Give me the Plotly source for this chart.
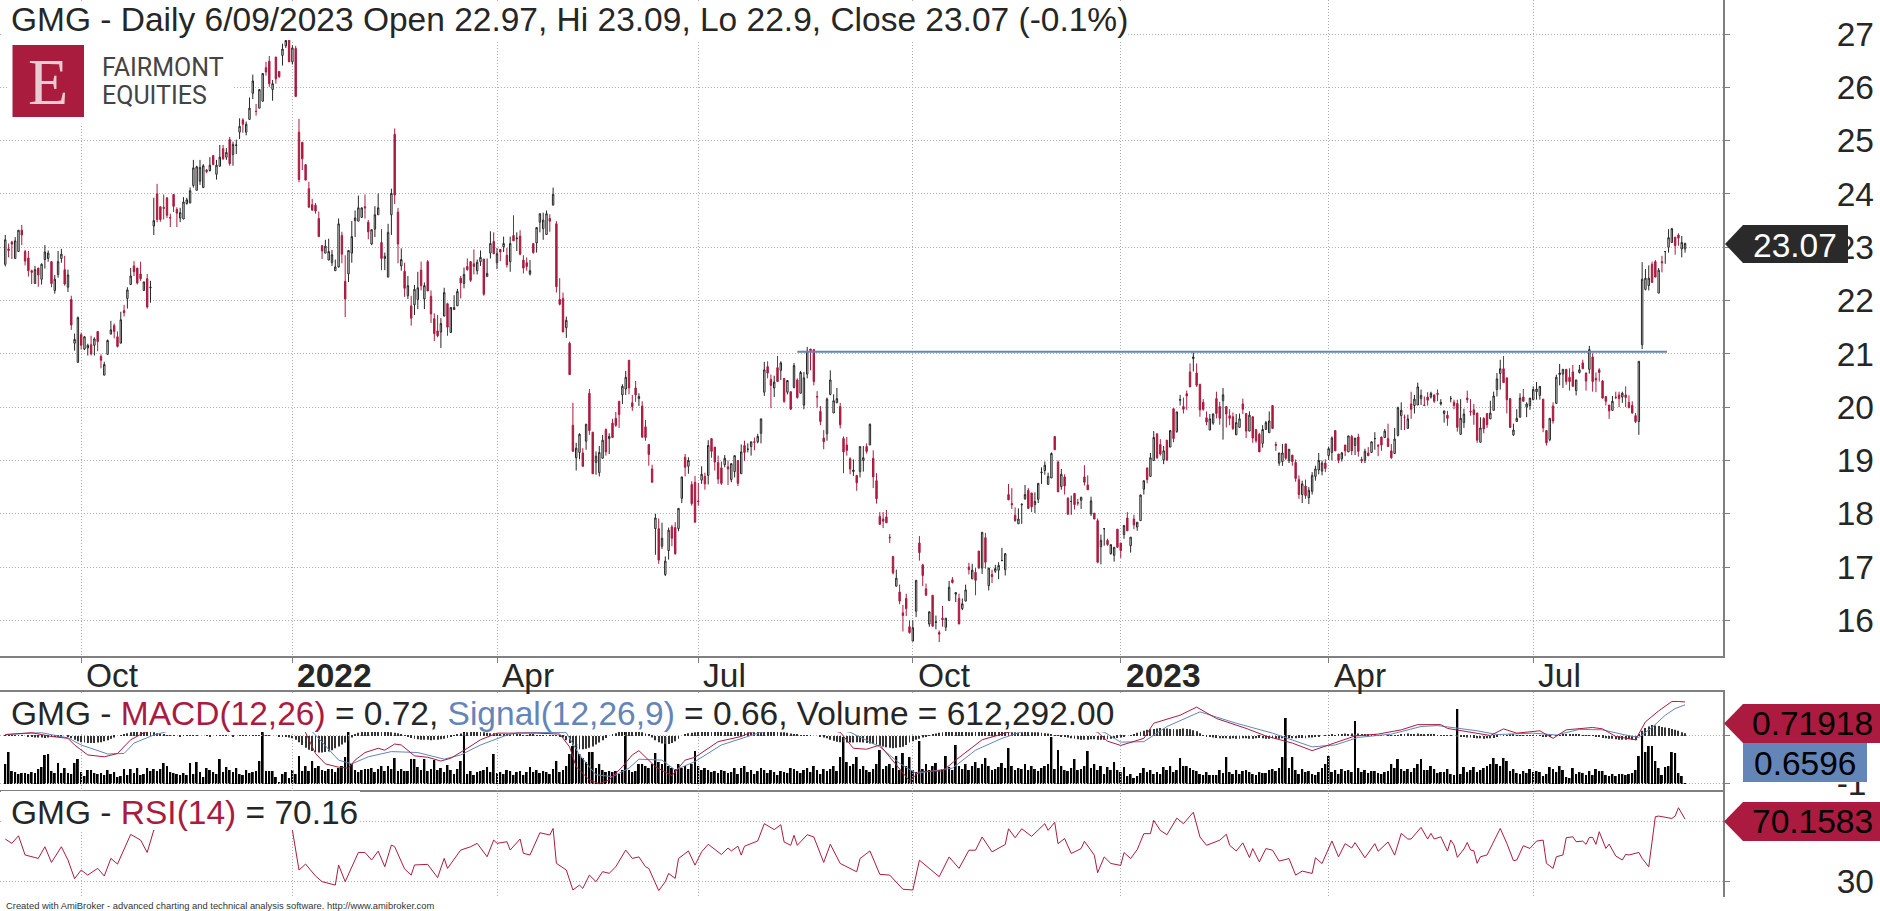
import plotly.graph_objects as go

# chart values, one entry per trading day
opens = [
 22.68,22.97,23.10,22.79,22.92,23.32,22.92,22.80,22.56,22.32,
 22.61,22.40,22.77,22.79,22.73,22.19,22.49,22.79,22.58,22.25,
 22.02,21.20,20.84,21.36,21.09,21.11,21.17,21.16,21.42,20.95,
 20.60,20.99,21.37,21.53,21.32,21.20,21.81,22.04,22.30,22.65,
 22.61,22.50,22.19,22.41,22.24,23.40,24.00,23.76,23.75,23.93,
 23.56,23.99,23.71,23.55,23.53,23.82,23.83,24.16,24.07,24.24,
 24.12,24.45,24.44,24.72,24.37,24.52,24.85,24.69,25.02,24.74,
 24.91,25.16,25.39,25.16,25.40,25.89,25.55,25.61,25.74,26.37,
 26.49,25.96,26.57,26.30,26.60,26.78,26.95,26.48,26.73,25.16,
 24.97,24.55,24.10,23.80,23.79,23.54,23.03,22.89,22.76,22.71,
 22.56,22.63,23.22,22.36,22.50,22.89,23.50,23.49,23.56,23.76,
 23.47,23.06,23.34,23.61,23.09,22.79,22.44,23.61,25.12,23.66,
 22.65,22.55,22.09,21.90,21.92,22.02,22.57,22.03,22.73,22.08,
 21.66,21.43,21.41,21.71,21.94,21.40,21.83,21.90,22.42,22.32,
 22.64,22.73,22.69,22.56,22.73,22.78,22.45,22.89,23.11,22.71,
 22.96,23.01,22.85,22.73,23.22,23.16,23.21,22.76,22.71,22.50,
 23.07,23.08,23.47,23.35,23.24,23.54,23.79,23.44,22.02,22.04,
 21.49,21.20,19.66,19.05,19.15,19.14,19.36,20.26,19.53,18.96,
 18.77,19.04,19.58,19.41,19.70,19.79,20.11,20.23,20.34,20.88,
 20.08,20.36,20.16,20.02,19.63,19.30,18.84,17.72,17.72,17.39,
 16.86,17.31,17.75,17.74,17.72,18.29,19.06,18.89,18.55,18.59,
 18.24,18.63,18.70,18.72,19.41,19.25,18.96,18.86,18.92,18.88,
 18.64,18.79,19.00,18.75,19.28,19.21,19.26,19.35,19.35,19.51,
 20.28,20.76,20.52,20.36,20.74,20.69,20.54,20.28,20.29,20.37,
 20.51,20.26,20.04,20.62,21.09,21.08,20.20,19.92,19.42,19.50,
 20.24,19.89,20.08,20.01,19.41,19.29,19.03,18.79,18.72,18.79,
 19.00,19.26,19.29,19.04,18.62,17.95,17.90,17.94,17.56,17.20,
 16.64,16.53,16.14,16.41,15.88,15.61,16.17,17.45,17.04,16.59,
 15.93,16.47,15.96,15.77,16.04,15.87,16.37,16.76,16.49,16.41,
 16.22,16.36,17.00,16.78,16.90,17.30,16.98,17.55,16.65,16.86,
 16.92,16.94,17.12,16.95,18.36,18.19,17.97,17.81,18.17,18.28,
 18.44,18.39,18.17,18.27,18.77,18.81,18.55,18.67,19.45,18.97,
 18.51,18.69,18.29,18.23,18.38,18.21,18.25,18.69,18.54,18.00,
 18.01,17.87,17.38,17.72,17.50,17.25,17.22,17.71,17.45,17.61,
 17.92,17.40,17.90,17.75,17.87,18.46,18.86,18.70,19.00,19.50,
 19.30,19.01,19.38,19.25,19.97,19.54,20.13,20.01,20.25,20.66,
 20.91,20.64,20.43,20.09,19.80,19.57,19.70,20.16,20.01,20.12,
 20.01,19.84,19.82,19.48,19.62,20.06,19.88,19.55,19.82,19.58,
 19.49,19.32,19.58,19.52,20.03,19.30,18.95,18.98,19.31,19.00,
 19.10,18.96,18.64,18.36,18.52,18.30,18.42,18.70,18.82,18.80,
 18.95,19.09,19.15,19.56,19.12,19.03,19.29,19.16,19.45,19.28,
 19.44,19.02,19.00,19.14,19.15,19.41,19.28,19.44,19.43,19.41,
 19.18,19.13,19.47,19.84,19.81,19.60,20.06,20.03,20.04,20.16,
 20.04,20.19,20.19,20.23,20.26,20.06,19.88,19.85,20.16,20.09,
 20.07,19.49,19.71,20.17,19.92,19.95,19.89,19.34,19.79,19.88,
 19.78,19.94,20.33,20.63,20.72,20.55,20.16,19.48,19.73,19.81,
 20.19,20.00,20.03,20.14,20.29,20.22,20.15,19.56,19.39,20.02,
 20.07,20.61,20.62,20.71,20.56,20.66,20.31,20.65,20.83,20.64,
 20.71,20.94,20.54,20.70,20.49,20.20,20.04,19.94,20.19,20.23,
 20.19,20.23,20.09,20.03,19.84,19.73,21.17,22.21,22.28,22.68,
 22.73,22.14,22.73,22.92,23.00,23.09,23.19,23.23,22.97,22.97]
highs = [
 23.23,23.07,23.12,23.19,23.32,23.42,22.95,22.93,22.58,22.65,
 22.61,22.70,23.04,22.94,22.74,22.48,22.93,22.97,22.84,22.58,
 22.09,21.38,21.70,21.40,21.33,21.19,21.34,21.31,21.42,20.99,
 20.85,21.27,21.62,21.57,21.42,21.79,21.92,22.25,22.61,22.74,
 22.61,22.73,22.35,22.50,22.37,23.93,24.19,23.76,23.99,23.93,
 23.63,23.99,23.75,23.74,23.94,23.93,24.12,24.64,24.53,24.64,
 24.56,24.47,24.69,24.72,24.64,24.92,24.92,24.86,25.07,24.98,
 25.02,25.42,25.42,25.36,25.81,26.24,25.69,25.96,26.27,26.48,
 26.59,26.14,26.57,26.30,26.82,26.98,27.00,26.79,26.78,25.41,
 24.97,24.55,24.23,23.91,23.83,23.67,23.04,23.14,23.16,22.95,
 22.77,23.54,23.29,22.85,22.94,23.49,23.69,23.97,23.74,23.99,
 23.51,23.33,23.77,24.01,23.34,22.90,23.44,24.10,25.23,23.74,
 22.98,22.71,22.46,22.09,22.29,22.54,22.73,22.34,22.76,22.19,
 21.76,21.73,21.67,22.24,21.96,21.87,22.10,22.22,22.46,22.62,
 22.79,22.74,22.96,22.77,22.94,22.78,22.79,23.30,23.28,22.99,
 22.96,23.20,22.99,23.20,23.60,23.28,23.32,22.85,22.81,22.76,
 23.07,23.37,23.63,23.65,23.69,23.62,24.12,23.49,22.42,22.15,
 21.70,21.23,20.08,19.33,19.51,19.23,19.68,20.34,19.53,19.17,
 19.27,19.48,19.60,19.51,19.78,19.91,20.11,20.43,20.68,20.88,
 20.23,20.49,20.26,20.11,19.76,19.30,18.92,18.00,17.91,17.83,
 17.20,17.74,17.79,17.84,18.10,18.69,19.12,19.06,18.61,18.71,
 18.58,18.89,18.77,19.38,19.41,19.25,19.09,18.98,19.10,19.00,
 18.94,19.09,19.00,19.30,19.37,19.32,19.35,19.43,19.50,19.78,
 20.85,20.86,20.61,20.59,20.96,20.86,20.54,20.50,20.29,20.83,
 20.54,20.68,20.66,21.13,21.09,21.08,20.30,20.02,19.57,20.18,
 20.69,20.24,20.36,20.08,19.45,19.44,19.06,19.02,18.72,19.26,
 19.27,19.32,19.69,19.19,18.76,18.03,18.03,18.07,17.62,17.20,
 16.95,16.67,16.29,16.50,16.00,16.00,16.75,17.58,17.06,16.69,
 16.16,16.47,16.09,15.81,16.27,16.04,16.74,16.81,16.52,16.50,
 16.41,16.67,17.08,17.06,16.98,17.30,17.66,17.64,16.98,16.95,
 17.04,17.09,17.36,17.26,18.56,18.48,18.12,18.10,18.18,18.54,
 18.48,18.39,18.40,18.57,18.87,18.98,18.77,19.15,19.45,19.00,
 18.84,18.74,18.31,18.34,18.38,18.28,18.31,18.91,18.72,18.32,
 18.01,17.91,17.61,17.72,17.53,17.42,17.37,17.71,17.45,17.78,
 18.03,17.56,17.98,17.84,18.36,18.62,18.86,19.14,19.55,19.50,
 19.40,19.27,19.38,19.56,19.97,19.91,20.23,20.18,20.31,20.82,
 21.03,20.82,20.43,20.15,19.92,19.87,19.88,20.29,20.10,20.36,
 20.01,19.96,19.90,19.87,19.88,20.16,19.88,19.92,19.82,19.58,
 19.52,19.66,19.74,19.92,20.03,19.35,19.14,19.31,19.31,19.21,
 19.10,19.02,18.72,18.62,18.64,18.50,18.78,18.90,19.14,19.00,
 19.02,19.26,19.45,19.56,19.12,19.16,19.29,19.46,19.48,19.42,
 19.50,19.07,19.22,19.25,19.35,19.53,19.31,19.44,19.59,19.69,
 19.31,19.61,20.01,20.09,19.86,19.86,20.29,20.23,20.46,20.33,
 20.20,20.28,20.29,20.23,20.33,20.15,19.93,19.93,20.21,20.14,
 20.14,20.15,19.97,20.31,20.15,20.06,19.89,19.81,19.81,19.88,
 20.12,20.29,20.64,20.89,20.96,20.55,20.16,19.69,19.96,20.26,
 20.34,20.09,20.17,20.39,20.47,20.39,20.15,19.56,19.79,20.09,
 20.61,20.81,20.71,20.71,20.73,20.79,20.51,20.79,20.89,20.65,
 21.15,21.01,20.65,20.73,20.51,20.20,20.04,20.21,20.29,20.29,
 20.29,20.39,20.22,20.11,19.89,20.86,22.72,22.59,22.66,22.73,
 22.76,22.61,22.84,22.92,23.34,23.35,23.19,23.26,23.21,23.09]
lows = [
 22.64,22.81,22.78,22.79,22.92,23.04,22.66,22.45,22.31,22.32,
 22.26,22.30,22.60,22.73,22.25,22.13,22.43,22.71,22.28,22.16,
 21.45,21.06,20.84,21.08,21.07,20.97,20.97,20.97,21.05,20.73,
 20.60,20.99,21.37,21.29,21.12,21.20,21.70,21.85,22.30,22.46,
 22.30,22.37,22.19,21.85,21.96,23.23,23.47,23.48,23.52,23.55,
 23.38,23.66,23.38,23.47,23.53,23.80,23.83,24.12,24.07,24.17,
 24.12,24.39,24.42,24.55,24.27,24.52,24.64,24.64,24.53,24.53,
 24.75,25.03,25.15,25.10,25.40,25.78,25.47,25.61,25.74,26.22,
 26.01,25.75,26.07,26.18,26.41,26.74,26.48,26.43,25.83,24.22,
 24.45,24.26,23.75,23.68,23.63,23.20,22.78,22.89,22.76,22.65,
 22.56,22.62,22.70,21.69,22.35,22.71,23.19,23.49,23.56,23.54,
 23.15,23.04,23.19,23.61,22.57,22.57,22.44,23.23,23.81,22.70,
 22.56,22.07,22.03,21.53,21.73,21.84,22.19,21.84,22.18,21.58,
 21.24,21.31,21.11,21.70,21.34,21.40,21.83,21.90,22.04,22.23,
 22.56,22.35,22.49,22.49,22.65,22.09,22.45,22.79,22.87,22.59,
 22.74,22.91,22.62,22.54,23.12,22.93,22.85,22.51,22.56,22.47,
 22.88,22.90,23.28,23.14,23.24,23.29,23.79,22.15,21.91,21.41,
 21.30,20.61,19.17,18.81,19.02,18.88,19.20,19.48,18.75,18.73,
 18.70,19.04,19.09,19.12,19.43,19.63,19.61,20.06,20.23,20.24,
 19.93,20.10,20.02,19.42,19.37,18.90,18.59,17.23,17.06,17.34,
 16.83,17.14,17.39,17.23,17.67,18.20,18.70,18.75,18.15,17.84,
 18.15,18.56,18.45,18.55,19.05,18.81,18.56,18.54,18.87,18.54,
 18.59,18.68,18.52,18.75,18.99,19.15,19.09,19.19,19.32,19.32,
 20.21,20.54,19.98,20.19,20.48,20.51,20.08,20.24,19.96,20.35,
 20.16,20.26,19.96,20.54,20.69,20.41,19.99,19.66,19.21,19.37,
 20.22,19.89,20.08,19.60,18.76,19.09,18.74,18.71,18.43,18.68,
 18.79,19.13,19.29,18.48,18.19,17.80,17.73,17.83,17.45,16.86,
 16.64,16.30,15.79,16.08,15.75,15.61,16.06,17.12,16.64,16.47,
 15.88,15.88,15.83,15.59,15.88,15.80,16.37,16.69,16.34,15.93,
 16.19,16.36,16.86,16.77,16.47,16.97,16.87,16.97,16.56,16.70,
 16.89,16.77,17.12,16.84,18.26,18.09,17.85,17.81,17.81,18.26,
 18.09,18.03,18.01,18.20,18.56,18.73,18.55,18.67,19.20,18.41,
 18.45,18.36,17.99,17.98,18.08,18.15,18.09,18.53,18.45,17.96,
 17.90,17.07,17.05,17.40,17.40,17.23,17.10,17.37,17.17,17.53,
 17.68,17.27,17.71,17.68,17.87,18.36,18.57,18.70,19.00,19.03,
 19.09,18.93,18.99,19.25,19.34,19.52,20.03,19.88,19.95,20.38,
 20.67,20.38,19.82,19.93,19.66,19.57,19.67,19.79,19.67,19.39,
 19.62,19.66,19.57,19.48,19.62,19.87,19.42,19.55,19.33,19.33,
 19.16,19.24,19.58,19.52,19.60,19.18,18.90,18.90,19.01,18.95,
 18.90,18.60,18.28,18.20,18.28,18.18,18.36,18.62,18.74,18.72,
 18.78,19.01,19.00,19.18,18.95,18.98,19.08,19.16,19.10,19.10,
 19.07,18.95,18.95,19.08,19.14,19.20,19.08,19.18,19.43,19.26,
 19.03,19.13,19.45,19.57,19.57,19.60,19.78,19.88,20.04,20.04,
 20.02,20.03,20.16,20.08,20.11,20.03,19.71,19.65,20.09,19.96,
 19.54,19.49,19.61,20.08,19.84,19.67,19.33,19.34,19.51,19.61,
 19.78,19.94,20.20,20.33,20.46,19.88,19.61,19.46,19.73,19.81,
 20.11,19.81,19.95,20.13,20.14,20.14,19.53,19.28,19.36,19.69,
 20.07,20.41,20.36,20.42,20.31,20.39,20.22,20.63,20.72,20.31,
 20.63,20.29,20.28,20.48,20.16,20.03,19.78,19.94,20.15,20.00,
 20.08,20.00,19.98,19.88,19.70,19.48,21.09,22.19,22.19,22.34,
 22.44,22.14,22.53,22.69,22.90,23.09,22.86,23.03,22.81,22.90]
closes = [
 23.14,22.94,23.06,23.12,23.32,23.23,22.74,22.56,22.53,22.58,
 22.48,22.68,22.91,22.89,22.32,22.40,22.73,22.87,22.31,22.48,
 21.54,21.27,21.68,21.16,21.32,21.16,21.00,21.28,21.23,20.88,
 20.80,21.25,21.45,21.42,21.14,21.64,21.77,22.20,22.46,22.54,
 22.33,22.41,22.35,21.88,22.25,23.50,23.52,23.52,23.73,23.60,
 23.55,23.77,23.64,23.65,23.85,23.89,24.06,24.49,24.51,24.50,
 24.53,24.42,24.54,24.55,24.54,24.69,24.66,24.78,24.57,24.93,
 24.92,25.27,25.31,25.31,25.61,26.12,25.55,25.96,26.26,26.29,
 26.07,26.07,26.16,26.20,26.72,26.88,26.48,26.74,25.83,24.27,
 24.66,24.26,23.75,23.70,23.68,23.20,22.93,23.02,22.92,22.86,
 22.63,23.44,22.87,22.03,22.94,23.20,23.55,23.74,23.74,23.74,
 23.29,23.33,23.61,23.74,22.79,22.83,23.28,24.01,23.98,23.06,
 22.77,22.23,22.28,21.67,22.21,22.24,22.28,22.28,22.18,21.75,
 21.38,21.34,21.57,22.15,21.50,21.87,21.87,22.17,22.33,22.49,
 22.58,22.38,22.64,22.72,22.81,22.12,22.51,23.07,22.88,22.88,
 22.91,23.07,22.67,23.07,23.12,23.17,22.87,22.61,22.64,22.56,
 22.90,23.37,23.63,23.51,23.63,23.49,23.99,22.26,21.93,21.41,
 21.63,20.61,19.17,19.23,19.49,18.89,19.68,19.56,18.75,19.08,
 19.15,19.38,19.16,19.45,19.43,19.66,19.86,20.39,20.56,20.36,
 20.01,20.23,20.20,19.44,19.43,19.11,18.59,17.92,17.13,17.54,
 17.11,17.69,17.54,17.25,18.10,18.69,18.87,19.00,18.19,17.84,
 18.23,18.74,18.56,19.28,19.17,18.97,18.65,18.57,19.04,18.84,
 18.94,19.09,18.57,19.16,19.15,19.21,19.35,19.34,19.45,19.78,
 20.70,20.64,20.41,20.47,20.48,20.83,20.11,20.50,19.96,20.78,
 20.18,20.65,20.55,21.05,21.06,20.48,20.19,19.73,19.35,20.15,
 20.51,20.12,20.16,19.67,19.16,19.19,18.84,18.82,18.58,19.26,
 19.05,19.17,19.68,18.69,18.28,17.80,17.86,17.83,17.55,16.89,
 16.79,16.36,16.09,16.22,15.77,15.86,16.75,17.27,16.84,16.47,
 16.16,15.89,15.97,15.74,16.01,16.04,16.62,16.71,16.52,15.93,
 16.31,16.57,16.95,16.94,16.75,16.98,17.65,17.09,16.98,16.82,
 16.97,17.03,17.12,17.25,18.26,18.17,17.87,17.90,18.18,18.36,
 18.10,18.13,18.23,18.57,18.78,18.91,18.70,19.13,19.20,18.41,
 18.74,18.52,17.99,18.23,18.17,18.20,18.31,18.59,18.45,18.24,
 17.90,17.09,17.50,17.72,17.42,17.42,17.37,17.37,17.31,17.78,
 17.68,17.56,17.79,17.84,18.35,18.62,18.64,19.05,19.43,19.05,
 19.12,19.18,19.01,19.56,19.41,19.91,20.14,19.96,20.21,20.38,
 20.94,20.41,19.95,19.96,19.72,19.78,19.87,19.88,19.79,20.23,
 19.87,19.79,19.60,19.71,19.78,19.96,19.55,19.85,19.42,19.37,
 19.16,19.58,19.71,19.74,19.60,19.28,19.14,19.14,19.04,19.21,
 18.98,18.66,18.36,18.56,18.34,18.44,18.72,18.84,19.00,18.95,
 18.85,19.22,19.42,19.18,19.00,19.14,19.18,19.46,19.18,19.42,
 19.17,18.99,19.17,19.09,19.35,19.41,19.27,19.29,19.55,19.26,
 19.05,19.40,19.99,19.94,19.81,19.78,19.96,20.15,20.38,20.22,
 20.03,20.13,20.26,20.11,20.24,20.09,19.93,19.79,20.16,20.03,
 19.62,19.79,19.87,20.14,19.91,19.86,19.38,19.61,19.59,19.67,
 19.89,20.21,20.53,20.72,20.46,20.14,19.62,19.57,19.79,20.17,
 20.11,20.06,20.17,20.33,20.34,20.39,19.61,19.33,19.79,19.74,
 20.56,20.64,20.71,20.48,20.48,20.39,20.51,20.70,20.72,20.49,
 21.08,20.48,20.51,20.65,20.17,20.11,19.93,20.11,20.18,20.16,
 20.26,20.18,19.99,19.89,19.73,20.86,22.40,22.42,22.42,22.34,
 22.44,22.57,22.71,22.92,23.18,23.35,23.03,23.17,23.09,23.07]

# volume in millions
volume = [
 4.4,6.8,3.0,2.8,2.4,2.6,2.6,2.4,2.8,2.6, 3.4,3.8,6.2,6.4,3.0,2.6,4.6,2.6,3.6,2.6,
 2.4,4.6,5.4,2.8,2.0,3.2,3.2,2.6,2.4,2.6, 2.2,3.2,2.4,2.8,1.8,2.0,3.4,2.2,3.4,2.6,
 3.6,2.2,2.4,3.6,3.0,3.4,3.0,3.4,4.6,4.0, 2.8,2.6,2.4,2.2,2.6,2.2,4.6,2.4,4.8,2.8,
 1.8,3.6,3.2,2.8,2.4,5.4,2.8,3.8,3.2,2.8, 3.6,2.4,2.2,3.2,2.6,2.8,3.0,5.0,13.4,3.0,
 3.0,3.0,1.8,0.8,2.4,2.8,1.6,3.2,2.4,6.0, 3.0,4.0,3.0,5.0,3.6,4.0,3.2,3.0,3.4,3.4,
 2.8,3.6,4.0,5.8,12.4,4.4,3.2,2.8,3.2,3.4, 3.4,3.6,2.8,3.4,4.0,3.0,4.0,3.4,5.6,3.0,
 3.4,3.0,3.0,5.4,5.4,3.8,3.2,5.4,3.0,3.4, 5.2,3.2,3.6,2.8,4.2,3.2,2.4,3.4,5.0,11.4,
 2.4,3.0,2.2,2.8,3.0,3.2,3.8,2.8,6.4,2.6, 2.8,2.4,3.2,3.0,2.2,2.8,3.0,2.2,2.8,3.8,
 2.8,3.2,2.6,3.0,2.8,2.4,3.4,5.0,2.8,3.2, 4.0,6.4,8.0,8.4,6.4,5.6,4.8,6.8,6.8,3.6,
 4.4,3.2,2.8,3.0,2.8,3.0,2.4,3.2,11.4,3.2, 2.8,3.0,4.4,4.4,4.0,3.6,4.4,6.6,4.8,4.4,
 9.8,4.0,3.6,3.4,4.4,3.6,4.0,3.4,4.4,7.0, 4.0,3.2,3.6,3.2,2.8,3.0,2.6,3.2,3.0,2.6,
 2.8,3.6,2.4,3.6,4.0,2.8,3.2,2.4,3.0,3.6, 3.2,2.6,3.2,2.8,2.2,3.0,2.8,2.6,3.6,3.4,
 3.0,2.6,3.2,3.6,2.8,4.0,3.2,2.4,3.4,3.0, 3.4,4.0,3.0,5.8,9.8,4.8,4.0,4.4,5.8,3.4,
 4.0,3.2,2.8,3.4,4.4,7.2,3.4,4.0,4.4,3.6, 6.0,3.2,6.6,4.0,5.8,3.2,2.8,9.0,3.4,4.4,
 3.2,4.0,4.6,3.2,3.4,6.0,3.8,3.2,8.2,4.0, 3.4,4.4,3.2,4.0,4.8,3.6,4.4,5.6,4.0,3.2,
 3.4,3.8,4.6,3.6,7.6,4.0,3.2,3.6,3.4,4.4, 3.2,4.0,3.4,3.0,3.6,4.0,4.4,9.8,3.4,7.2,
 4.0,3.2,3.0,3.6,5.4,3.2,3.4,4.0,7.0,3.6, 4.4,3.2,4.0,2.4,3.8,3.2,4.8,3.2,2.8,3.8,
 2.0,2.4,1.6,2.0,2.6,3.6,2.8,3.2,2.4,2.8, 2.4,3.8,3.2,4.0,2.8,3.2,5.6,4.0,4.0,3.6,
 3.2,3.0,2.4,2.2,2.8,2.2,2.2,2.2,3.2,2.6, 5.8,2.8,2.4,3.2,2.4,3.0,3.2,2.8,2.4,2.2,
 2.8,2.6,2.6,3.2,3.4,3.0,3.6,5.8,13.6,3.6, 5.8,3.2,2.4,3.4,2.8,3.0,2.4,2.2,2.8,3.6,
 4.4,6.0,2.8,3.2,2.4,3.4,3.0,3.2,2.8,13.0, 3.6,2.8,3.2,2.6,3.0,3.0,2.6,2.4,2.8,3.0,
 4.4,3.6,5.4,3.4,3.0,3.4,2.8,3.6,4.4,5.4, 3.2,3.2,4.0,3.4,2.6,2.8,2.8,3.4,2.4,2.2,
 15.4,2.4,3.8,2.8,3.2,3.8,2.8,3.2,3.6,4.0, 4.4,5.6,4.4,4.0,5.6,5.0,3.0,3.4,2.6,2.4,
 3.0,2.6,3.4,2.8,3.0,2.8,2.0,2.4,3.8,3.4, 2.8,4.0,3.2,1.8,1.6,3.6,2.4,2.8,2.6,2.2,
 3.0,2.2,3.4,3.0,3.0,2.2,2.0,2.4,2.0,2.4, 2.4,2.2,2.4,2.6,3.2,6.0,11.0,6.8,8.0,8.0,
 5.0,3.6,2.2,3.8,4.0,6.8,6.6,2.6,2.0,0.61]

macd_hist = [
 .01,.01,.02,.02,.01,.01,.00,-.01,-.02,-.03, -.03,-.03,-.04,-.03,-.02,-.02,-.01,-.01,.00,-.02,
 -.05,-.08,-.11,-.13,-.14,-.15,-.15,-.15,-.14,-.13, -.11,-.09,-.06,-.03,.00,.02, .04,.06,.08,.09,
 .10,.11,.11,.10,.09,.08,.06,.05,.03,.02, .01,.01,.00,-.01,.01,.01,.02,.01,.01,.00,
 .00,.01,-.01,.00,.01,.01,.02,.01,.00,-.01, .00,.01,.01,.02,.02,.01,.01,.02,.03,.02,
 .01,.00,.00,-.01,-.01,-.02,-.03,-.05,-.08,-.13, -.19,-.25,-.29,-.32,-.34,-.35,-.35,-.34,-.33,-.30,
 -.26,-.22,-.18,-.14,-.10,-.03,.03,.07,.09,.10, .11,.11,.12,.11,.10,.10,.09,.08,.07,.06,
 .04,.01,-.02,-.04,-.06,-.07,-.08,-.08,-.08,-.09, -.08,-.08,-.07,-.06,-.04,-.02,.01,.03,.05,.06,
 .08,.09,.10,.10,.09,.08,.07,.06,.06,.05, .04,.04,.03,.03,.04,.03,.03,.02,.02,.03,
 .03,.02,.02,.01,.02,.02,.01,.01,-.01,-.03, -.09,-.15,-.20,-.25,-.28,-.28,-.27,-.25,-.22,-.18,
 -.14,-.09,-.04,.00,.03,.06, .09,.11,.13,.14, .15,.14,.12,.08,.05,.03,-.03,-.09,-.13,-.16,
 -.17,-.17,-.15,-.11,-.06,.00,.04,.06,.07,.08, .09,.10,.10,.10,.09,.10,.10,.10,.09,.09,
 .08,.08,.09,.09,.08,.08,.07,.08,.09,.09, .10,.10,.10,.09,.09,.08,.08,.07,.05,.04,
 .03,.02,.01,.02,.01,.00,.00,-.01,-.03,-.05, -.08,-.10,-.12,-.13,-.13,-.14,-.14,-.14,-.13,-.13,
 -.14,-.15,-.16,-.17,-.18,-.20,-.22,-.24,-.25,-.26, -.25,-.24,-.23,-.19,-.14,-.11,-.08,-.06,-.03,-.01,
 .01,.03,.05,.07,.08,.09,.10,.10,.10,.09, .09,.09,.08,.08,.09,.09,.10,.10,.10,.09,
 .09,.10,.10,.09,.09,.08,.08,.07,.08,.09, .09,.08,.08,.08,.07,.06,.05,.03,.02,.01,
 -.01,-.02,-.03,-.05,-.06,-.07,-.08,-.08,-.08,-.07, -.07,-.08,-.08,-.08,-.07,-.06,-.05,-.04,-.03,-.01,
 .00,.02,.04,.07,.09,.11,.13,.14,.15,.16, .17,.16,.16,.15,.15,.14,.15,.16,.15,.14,
 .12,.10,.06,.02,-.01,-.02,-.03,-.04,-.05,-.05, -.05,-.06,-.05,-.06,-.06,-.05,-.05,-.06,-.06,-.05,
 -.04,-.05,-.06,-.06,-.05,-.06,-.06,-.05,-.05,-.04, -.05,-.05,-.04,-.04,-.05,-.03,-.03,-.02,-.01,.00,
 .01,.02,.03,.02,.03,.04,.05,.04,.05,.04, .05,.04,.04,.03,.02,.03,.01,.01,.00,.01,
 .01,.02,.02,.03,.04,.05,.04,.04,.05,.04, .04,.03,.03,.03,.02,.02,.02,.01,.01,.00,
 -.01,-.01,-.02,-.03,-.03,-.04,-.05,-.05,-.06,-.05, -.05,-.04,-.02,.00,.01,.02,.03,.03,.02,.01,
 .01,.02,.02,.01,.02,.01,-.02,-.02,-.01,.00, .01,.02,.03,.04,.04,.03,.03,.03,.02,.02,
 .02,.01,-.01,-.02,-.04,-.05,-.06,-.06,-.07,-.08, -.08,-.08,-.07,-.08,-.09,.04,.11,.17,.20,.23,
 .22,.21,.19,.18,.17,.15,.13,.11,.08,.06]

# line studies are read at their turning points, x is the bar number
macd_idx = [0,8,14,19,21,25,30,34,38,42,50,60,70,80,85,91,94,97,101,104,106,109,113,115,118,120,124,128,132,135,140,144,149,158,161,168,171,173,177,180,183,187,190,192,197,202,206,209,216,223,226,240,253,257,261,265,270,274,277,284,288,296,304,320,331,334,338,345,348,356,361,367,376,382,390,396,401,409,416,423,428,435,437,443,450,454,458,465,469,473,481,484,488,494,497,501,505,507,509]
macd_vals = [.03,.07,-.01,-.05,-.19,-.40,-.44,-.37,-.08,.07,.25,.45,.60,.70,.50,.07,-.37,-.59,-.66,-.68,-.51,-.35,-.26,-.30,-.17,-.19,-.42,-.45,-.53,-.47,-.26,-.08,.06,.06,.06,.04,-.23,-.65,-.93,-1.01,-.93,-.65,-.40,-.31,-.65,-.84,-.51,-.45,-.12,-.01,.08,.25,.08,-.26,-.28,-.19,-.61,-.95,-.75,-.74,-.51,-.08,.08,.30,.08,-.11,-.20,-.05,.27,.44,.61,.37,.16,.00,-.15,-.31,-.19,.00,.04,.13,.24,.24,.16,.09,.01,.15,.06,.11,-.05,.13,.18,.15,-.01,-.08,.30,.53,.73,.73,.72]
signal_idx = [0,11,19,23,31,36,39,45,60,75,90,94,101,105,110,117,125,133,138,144,152,156,170,174,179,184,189,192,199,203,209,217,229,245,256,265,271,276,287,294,302,308,320,333,338,345,352,362,373,384,396,403,410,420,429,434,446,452,463,470,477,484,491,495,499,503,506,509]
signal_vals = [.03,.07,-.04,-.19,-.38,-.37,-.15,.02,.30,.50,.30,.02,-.51,-.59,-.44,-.33,-.35,-.49,-.40,-.19,.02,.08,.07,-.40,-.82,-.86,-.68,-.49,-.51,-.72,-.54,-.19,.08,.20,.08,-.23,-.58,-.79,-.68,-.30,-.05,.09,.25,.08,-.13,-.12,.20,.51,.27,.06,-.23,-.19,-.03,.04,.20,.22,.11,.03,.06,.02,.14,.13,.02,-.03,.18,.44,.58,.66]

rsi_idx = [0,2,4,6,10,12,14,17,19,21,23,25,28,30,32,34,38,41,43,45,50,60,70,80,85,87,89,91,94,96,100,101,103,107,109,111,113,115,117,118,121,123,124,128,131,133,134,138,141,143,146,148,149,152,153,156,157,159,162,165,166,167,170,172,174,175,177,179,181,183,185,188,190,192,194,195,198,200,201,203,204,207,209,211,213,217,219,220,222,223,224,228,230,233,235,236,238,239,240,243,245,248,250,253,258,259,262,265,268,272,275,277,283,286,289,292,294,296,299,303,304,306,308,311,315,316,318,319,321,323,326,327,330,331,333,335,338,339,341,343,345,347,348,350,352,355,357,360,362,364,368,370,371,373,375,377,378,380,382,384,386,389,391,393,396,397,399,402,404,406,408,409,412,415,416,419,421,423,425,426,429,431,432,433,435,437,438,439,440,442,443,444,445,446,447,449,453,455,457,458,460,462,464,466,467,469,470,472,473,475,476,478,479,480,481,482,483,485,486,488,490,491,492,495,496,498,500,501,505,506,507,509]
rsi_vals = [58.4,55.5,60.6,47.7,45.4,53.2,42.7,53.2,44.3,31.8,37.6,34.2,38.7,33.6,45.4,41.6,61.5,57.7,49.4,64.4,70,75,78,82,80,64.4,37.6,41.6,33.6,29.8,27.5,41,29.8,49.4,49.4,44.3,50.3,39.8,54.4,53.2,38.3,34.2,41,41.4,32.5,45.4,38.7,51,53.2,55.5,46.5,57.7,55.5,56.6,51,58.4,48.8,47.7,62.6,61.1,65.5,42.1,37.6,24.2,27.5,25.3,34.2,29.8,36.5,35.4,39.8,51,45.4,46.4,39.8,38.7,23.8,29.8,35.3,32,45.3,50.4,40.9,49.8,54.9,48,52.4,50.4,53.6,47.6,53.6,57.1,68.7,64.7,68,56.4,54.2,60.9,54.2,61.3,59.8,42.7,54.9,42,36.4,45.3,50.4,34.7,34.2,24.7,24.2,44.2,33.1,46.4,38.7,50.9,50.9,59.8,49.8,54.7,65.3,59.3,65.3,60.2,68.7,64.2,69.6,55.3,58.7,48.7,52,56.9,47.6,35.8,46.4,42,40.7,49.3,45.3,51.3,62,62,70.9,64.2,61.3,72.4,68.7,76.4,59.8,54.2,57.6,61.6,54.2,50.4,55.8,46,52,43.1,52,50.9,43.6,45.3,34.2,36.9,35.3,45.8,42,57.1,46.4,55.3,52.4,56,45.8,55.3,50.2,56.4,47.6,62.2,58.4,58.4,66.2,58.4,62.2,58.4,59.9,50.3,57.7,54.4,46.1,51.7,56.1,51,50.6,42.1,46.5,47.7,65.5,55.5,43.9,44.3,53.9,52.1,57,57.7,42.1,38.7,46.5,47.7,59.3,59.9,56.6,57,54.8,59.5,59.5,54.8,63.3,52.1,55,47,44.3,48.1,47.7,49.4,45.4,39.8,73.4,73.8,72.2,73.8,79.4,71.8,72.9,70.16]

month_idx = [23,87,149,210,275,338,401,463]
month_labels = ["Oct","<b>2022</b>","Apr","Jul","Oct","<b>2023</b>","Apr","Jul"]
trend_idx = [240,503.5]
trend_vals = [21.04,21.04]

RED = "#ab1b3f"
BLUE = "#6485b8"
INK = "#262626"
GRID = "#b0b0b0"
AXIS = "#808080"
FONT = "Liberation Sans"
TEXT_SIZE = 33.5
W, H = 1880, 911
PLOT_RIGHT = 1723


def px(x):
    return x / W


def py(y):
    return 1 - y / H


def white_box(x0, y0, x1, y1):
    return dict(type="rect", xref="paper", yref="paper", x0=px(x0), x1=px(x1), y0=py(y0), y1=py(y1),
                fillcolor="white", line_width=0, layer="above")


def flag(right, top, bottom, color, tip=1724, body=1743):
    mid = (top + bottom) / 2
    path = "M %f %f L %f %f L %f %f L %f %f L %f %f Z" % (
        px(tip), py(mid), px(body), py(top), px(right), py(top), px(right), py(bottom), px(body), py(bottom))
    return dict(type="path", xref="paper", yref="paper", path=path, fillcolor=color, line_width=0, layer="above")


def label(x, y, text, size=TEXT_SIZE, color=INK, family=FONT, anchor="left"):
    return dict(x=px(x), y=py(y), xref="paper", yref="paper", text=text, showarrow=False, xanchor=anchor,
                yanchor="middle", font=dict(size=size, color=color, family=family), borderpad=0)


def tint(color, text):
    return '<span style="color:%s">%s</span>' % (color, text)


bars = list(range(len(opens)))
fig = go.Figure()
fig.add_trace(go.Candlestick(x=bars, open=opens, high=highs, low=lows, close=closes, xaxis="x", yaxis="y",
                             increasing=dict(line=dict(color=INK, width=1), fillcolor="white"),
                             decreasing=dict(line=dict(color=RED, width=1), fillcolor=RED),
                             whiskerwidth=0, showlegend=False))
fig.add_trace(go.Scatter(x=trend_idx, y=trend_vals, mode="lines", xaxis="x", yaxis="y",
                         line=dict(color=BLUE, width=2), showlegend=False))
fig.add_trace(go.Bar(x=bars, y=volume, xaxis="x2", yaxis="y2", width=0.58, marker=dict(color="black", line_width=0),
                     showlegend=False))
fig.add_trace(go.Bar(x=bars, y=macd_hist, xaxis="x2", yaxis="y3", width=0.28, marker=dict(color="#333333", line_width=0),
                     showlegend=False))
fig.add_trace(go.Scatter(x=signal_idx, y=signal_vals, mode="lines", xaxis="x2", yaxis="y3",
                         line=dict(color=BLUE, width=1), showlegend=False))
fig.add_trace(go.Scatter(x=macd_idx, y=macd_vals, mode="lines", xaxis="x2", yaxis="y3",
                         line=dict(color=RED, width=1), showlegend=False))
fig.add_trace(go.Scatter(x=rsi_idx, y=rsi_vals, mode="lines", xaxis="x3", yaxis="y4",
                         line=dict(color=RED, width=1), showlegend=False))

x_common = dict(range=[-1.6, 520.5], domain=[0, px(PLOT_RIGHT)], tickmode="array", tickvals=month_idx,
                showticklabels=False, showgrid=True, gridcolor=GRID, griddash="1px,2px", gridwidth=1, zeroline=False)
y_common = dict(side="right", showgrid=True, gridcolor=GRID, griddash="1px,2px", gridwidth=1, zeroline=False,
                showline=True, linecolor=AXIS, linewidth=2, mirror=True, ticks="outside", ticklen=5, tickcolor=AXIS,
                tickfont=dict(size=TEXT_SIZE, color=INK, family=FONT), ticklabelstandoff=100)

fig.update_layout(
    width=W, height=H, margin=dict(l=0, r=0, t=0, b=0, autoexpand=False), paper_bgcolor="white",
    plot_bgcolor="rgba(0,0,0,0)", showlegend=False, hovermode=False, barmode="overlay", boxgap=0.39,
    xaxis=dict(x_common, anchor="y", rangeslider=dict(visible=False), showline=True, linecolor=AXIS, linewidth=2,
               mirror=True, ticks="outside", ticklen=5, tickcolor=AXIS),
    xaxis2=dict(x_common, anchor="y3", showline=True, linecolor=AXIS, linewidth=2, mirror=True, ticks=""),
    xaxis3=dict(x_common, anchor="y4", ticks=""),
    yaxis=dict(y_common, anchor="x", domain=[py(656), 1], range=[15.33, 27.64], tickmode="array",
               tickvals=list(range(16, 28))),
    yaxis2=dict(anchor="x2", domain=[py(784), py(692)], range=[0.4, 18.8], visible=False),
    yaxis3=dict(y_common, anchor="x2", domain=[py(790), py(692)], range=[-1.142, 0.93], tickmode="array",
                tickvals=[0, -1], ticktext=["0", "-1"]),
    yaxis4=dict(y_common, anchor="x3", domain=[py(897), py(790)], range=[19.5, 91.3], tickmode="array",
                tickvals=[30, 70]),
)

shapes = [
    white_box(1, 1, 1128, 40),
    white_box(8, 40, 234, 125),
    white_box(1, 693, 1125, 732),
    white_box(1, 791, 360, 830),
    dict(type="rect", xref="paper", yref="paper", x0=px(12.5), x1=px(84), y0=py(117), y1=py(45),
         fillcolor="#a91c3e", line_width=0, layer="above"),
    flag(1848, 225, 263, "#2a2a2a", tip=1725),
    flag(1880, 704, 743, RED),
    dict(type="rect", xref="paper", yref="paper", x0=px(1743), x1=px(1867), y0=py(782), y1=py(743),
         fillcolor=BLUE, line_width=0, layer="above"),
    flag(1880, 802, 841, RED),
]

notes = [
    label(10, 20, "GMG - Daily 6/09/2023 Open 22.97, Hi 23.09, Lo 22.9, Close 23.07 (-0.1%)"),
    label(10, 713, "GMG - " + tint(RED, "MACD(12,26)") + " = 0.72, " + tint(BLUE, "Signal(12,26,9)")
          + " = 0.66, Volume = 612,292.00"),
    label(10, 812, "GMG - " + tint(RED, "RSI(14)") + " = 70.16"),
    label(48, 81, "E", size=66, color="#e9ccd2", family="Liberation Serif", anchor="center"),
    label(101, 68, "FAIRMONT", size=25, color="#444444", family="Roboto"),
    label(101, 95, "EQUITIES", size=25, color="#444444", family="Roboto"),
    label(5, 905, "Created with AmiBroker - advanced charting and technical analysis software. http://www.amibroker.com",
          size=9.4, color="#333333"),
    label(1795, 245, "23.07", color="white", anchor="center"),
    label(1812, 723, "0.71918", color="black", anchor="center"),
    label(1805, 763, "0.6596", color="black", anchor="center"),
    label(1812, 821, "70.1583", color="black", anchor="center"),
]
for month, text in zip(month_idx, month_labels):
    notes.append(dict(x=month, y=py(675), xref="x", yref="paper", text=text, showarrow=False, xanchor="left",
                      yanchor="middle", xshift=3, font=dict(size=TEXT_SIZE, color=INK, family=FONT)))

fig.update_layout(shapes=shapes, annotations=notes)
fig.write_html("out.html", config={"displayModeBar": False},
               post_script="document.documentElement.style.overflow='hidden';document.body.style.margin='0';document.body.style.overflow='hidden';")
